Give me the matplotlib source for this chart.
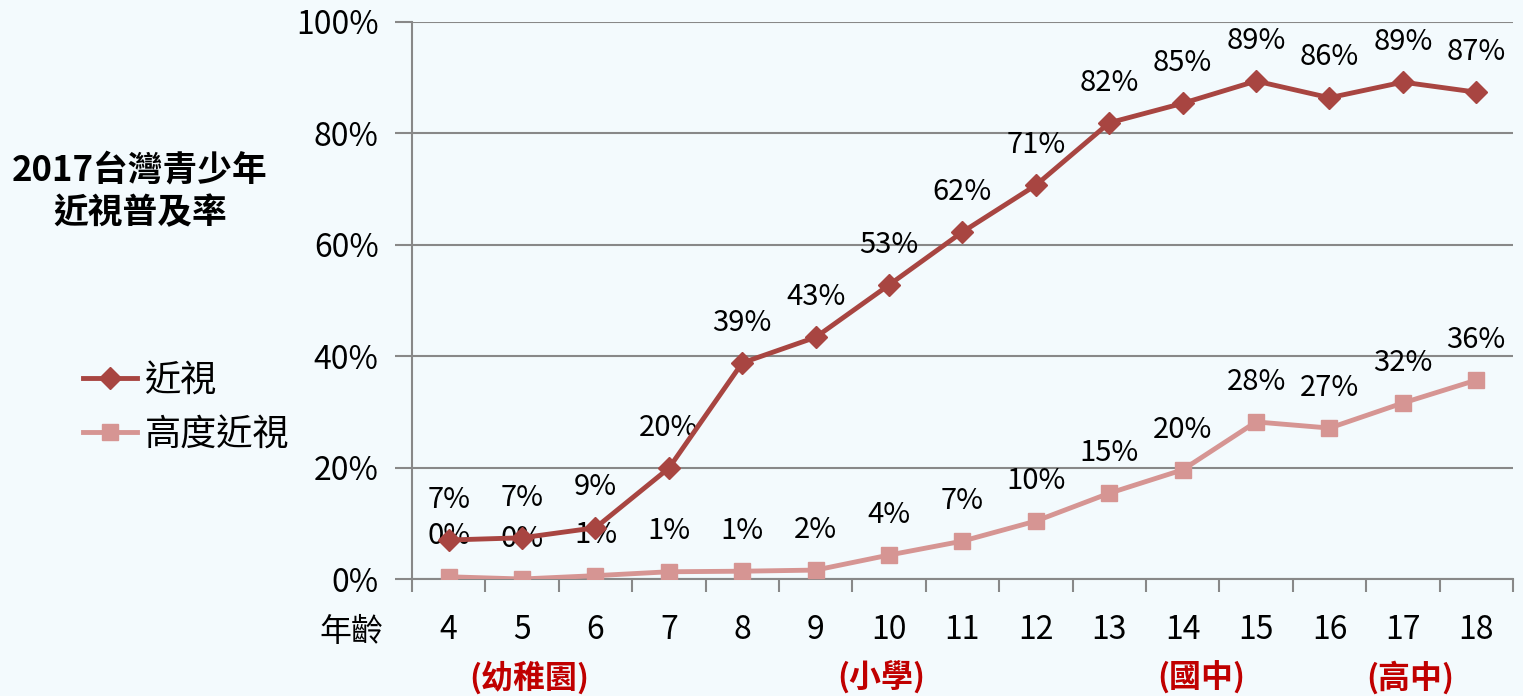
import matplotlib
matplotlib.use("Agg")
import matplotlib.pyplot as plt
from matplotlib.lines import Line2D

plt.rcParams['font.family'] = ['Noto Sans CJK TC', 'DejaVu Sans']

ages = ['4', '5', '6', '7', '8', '9', '10', '11', '12', '13', '14', '15', '16', '17', '18']
myopia = [7.0, 7.4, 9.2, 19.9, 38.8, 43.4, 52.8, 62.3, 70.7, 81.9, 85.4, 89.4, 86.4, 89.2, 87.4]
high_myopia = [0.4, 0.0, 0.6, 1.3, 1.4, 1.6, 4.3, 6.8, 10.4, 15.4, 19.6, 28.2, 27.1, 31.6, 35.7]
series_names = ['近視', '高度近視']
stage_labels = ['(幼稚園)', '(小學)', '(國中)', '(高中)']
stage_pos = [1.1, 5.9, 10.25, 13.1]
title = '2017台灣青少年\n近視普及率'
y_ticks = [0, 20, 40, 60, 80, 100]

bg = '#F3FAFD'
c_myo = '#A84541'
c_high = '#D69593'

fig = plt.figure(figsize=(15.23, 6.96), dpi=100, facecolor=bg)
ax = fig.add_axes([0.2705, 0.1681, 0.7229, 0.8003], facecolor=bg)

x = list(range(len(ages)))
ax.plot(x, high_myopia, color=c_high, lw=3.5, marker='s', ms=12, zorder=3)
ax.plot(x, myopia, color=c_myo, lw=3.5, marker='D', ms=11, zorder=4)

for xi, v in zip(x, myopia):
    ax.annotate(f'{round(v):.0f}%', (xi, v), xytext=(0, 29), textcoords='offset points',
                ha='center', va='center', fontsize=21)
for xi, v in zip(x, high_myopia):
    ax.annotate(f'{round(v):.0f}%', (xi, v), xytext=(0, 29), textcoords='offset points',
                ha='center', va='center', fontsize=21)

ax.set_xlim(-0.5, len(ages) - 0.5)
ax.set_ylim(0, 100)
ax.set_yticks(y_ticks)
ax.set_yticklabels([f'{t}%' for t in y_ticks], fontsize=23)
ax.set_xticks(x)
ax.set_xticklabels(ages, fontsize=23)
ax.tick_params(axis='x', length=0, pad=25)
ax.set_xticks([i - 0.5 for i in range(len(ages) + 1)], minor=True)
ax.tick_params(axis='x', which='minor', length=9, color='#888888', width=1.5, direction='out')
ax.tick_params(axis='y', length=12, color='#888888', width=1.5, pad=12)
ax.grid(axis='y', color='#888888', lw=1.5)
ax.set_axisbelow(True)
for s in ['top', 'right']:
    ax.spines[s].set_visible(False)
for s in ['left', 'bottom']:
    ax.spines[s].set_color('#888888')
    ax.spines[s].set_linewidth(1.5)

ax.text(-1.32, -0.095, '年齡', transform=ax.get_xaxis_transform(), ha='center', va='center', fontsize=23)
for lbl, p in zip(stage_labels, stage_pos):
    ax.text(p, -0.178, lbl, transform=ax.get_xaxis_transform(), ha='center', va='center',
            fontsize=23, color='#C00000', fontweight='bold')

fig.text(0.092, 0.725, title, ha='center', va='center', fontsize=25, fontweight='bold',
         linespacing=1.25)

handles = [Line2D([], [], color=c_myo, lw=3.5, marker='D', ms=11),
           Line2D([], [], color=c_high, lw=3.5, marker='s', ms=12)]
fig.legend(handles, series_names, loc='center left', bbox_to_anchor=(0.0545, 0.414),
           frameon=False, fontsize=26, handlelength=1.5, labelspacing=0.5, handletextpad=0.2,
           borderpad=0, borderaxespad=0)

fig.savefig('out.png', dpi=100, facecolor=bg)
